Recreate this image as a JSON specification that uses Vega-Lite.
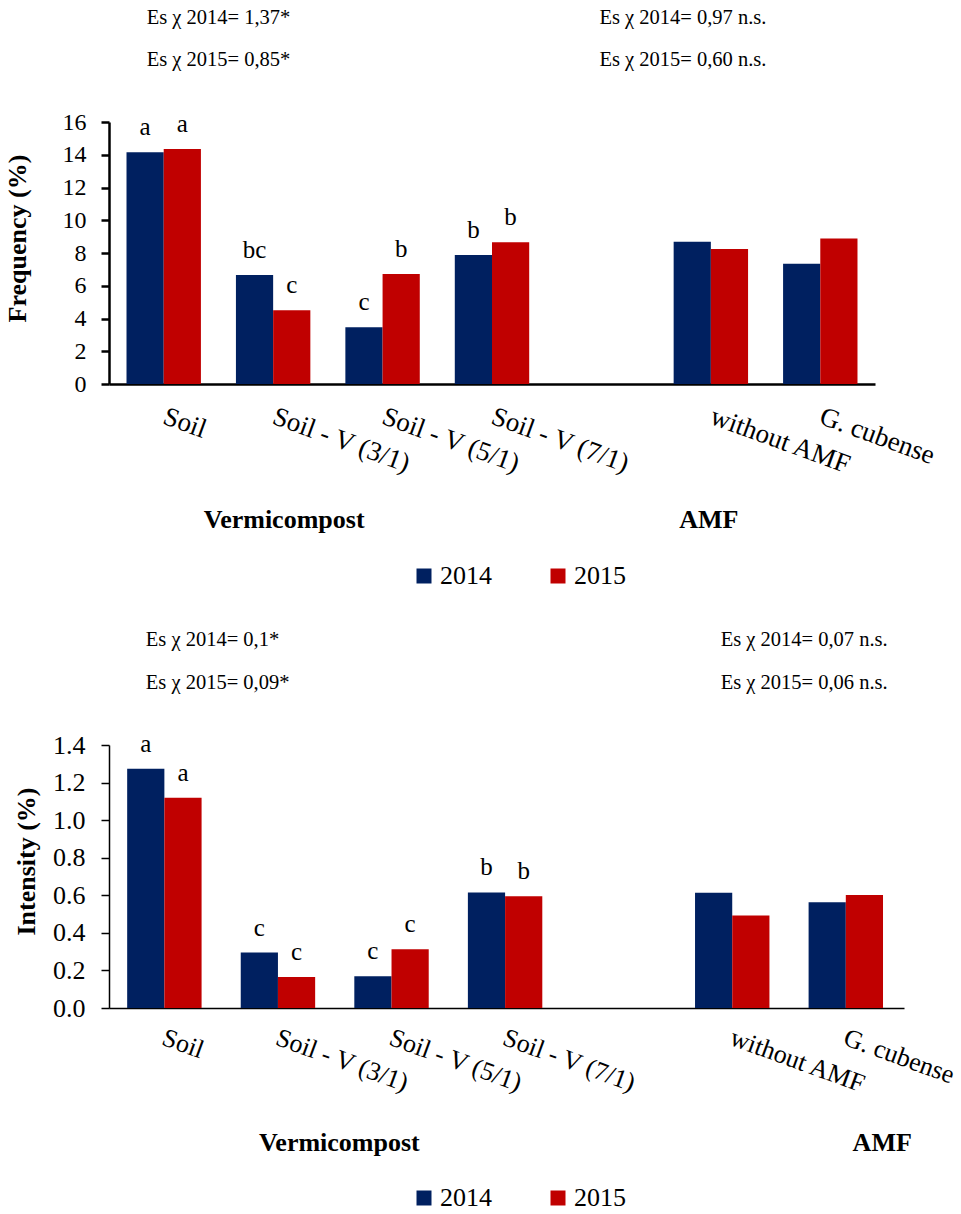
{
  "$schema": "https://vega.github.io/schema/vega-lite/v6.json",
  "background": "white",
  "padding": {"left": 4, "top": 8, "right": 2, "bottom": 5},
  "spacing": 361,
  "bounds": "flush",
  "config": {"view": {"stroke": null}, "font": "Liberation Serif", "legend": {"labelFont": "Liberation Serif"}, "axis": {"labelFont": "Liberation Serif", "titleFont": "Liberation Serif"}},
  "resolve": {"scale": {"x": "independent", "y": "independent", "color": "independent"}, "legend": {"color": "independent"}},
  "vconcat": [
    {
      "width": 766,
      "height": 262,
      "data": {"values": [
        {"treatment": "Soil", "year": "2014", "value": 14.15, "letter": "a"},
        {"treatment": "Soil", "year": "2015", "value": 14.35, "letter": "a"},
        {"treatment": "Soil - V (3/1)", "year": "2014", "value": 6.66, "letter": "bc"},
        {"treatment": "Soil - V (3/1)", "year": "2015", "value": 4.50, "letter": "c"},
        {"treatment": "Soil - V (5/1)", "year": "2014", "value": 3.46, "letter": "c"},
        {"treatment": "Soil - V (5/1)", "year": "2015", "value": 6.72, "letter": "b"},
        {"treatment": "Soil - V (7/1)", "year": "2014", "value": 7.88, "letter": "b"},
        {"treatment": "Soil - V (7/1)", "year": "2015", "value": 8.65, "letter": "b"},
        {"treatment": "without AMF", "year": "2014", "value": 8.69, "letter": ""},
        {"treatment": "without AMF", "year": "2015", "value": 8.24, "letter": ""},
        {"treatment": "G. cubense", "year": "2014", "value": 7.35, "letter": ""},
        {"treatment": "G. cubense", "year": "2015", "value": 8.88, "letter": ""}
      ]},
      "layer": [
        {
          "mark": {"type": "bar"},
          "encoding": {
            "x": {"field": "treatment", "type": "nominal",
              "scale": {"domain": ["Soil", "Soil - V (3/1)", "Soil - V (5/1)", "Soil - V (7/1)", " ", "without AMF", "G. cubense"], "paddingInner": 0.32, "paddingOuter": 0.16},
              "axis": {"title": null, "ticks": false, "domainColor": "black", "domainWidth": 2.5, "labelAngle": 20, "labelAlign": "left", "labelBaseline": "top", "labelPadding": 19, "labelOffset": 5, "labelFont": "Liberation Serif", "labelFontSize": 27, "labelColor": "black", "labelOverlap": false, "labelLimit": 400, "labelBound": false}},
            "xOffset": {"field": "year", "type": "nominal", "scale": {"paddingInner": 0}},
            "y": {"field": "value", "type": "quantitative", "scale": {"domain": [0, 16]},
              "axis": {"title": "Frequency (%)", "values": [0, 2, 4, 6, 8, 10, 12, 14, 16], "tickCount": 9, "labelOverlap": false, "grid": false, "domainColor": "black", "domainWidth": 2.5, "tickColor": "black", "tickWidth": 2.5, "tickSize": 8, "labelFont": "Liberation Serif", "labelFontSize": 24, "labelColor": "black", "labelPadding": 15, "titleFont": "Liberation Serif", "titleFontSize": 26, "titleFontWeight": "bold", "titleColor": "black", "titlePadding": 32, "titleY": 116}},
            "color": {"field": "year", "type": "nominal",
              "scale": {"domain": ["2014", "2015"], "range": ["#002060", "#C00000"]},
              "legend": {"orient": "none", "legendX": 302, "legendY": 441, "direction": "horizontal", "title": null, "symbolType": "square", "symbolSize": 225, "symbolStrokeWidth": 0, "labelFont": "Liberation Serif", "labelFontSize": 26, "labelColor": "black", "labelOffset": 3, "columnPadding": 53, "padding": 0}}
          }
        },
        {
          "mark": {"type": "text", "dy": -17, "baseline": "alphabetic", "align": "center", "font": "Liberation Serif", "fontSize": 25, "color": "black"},
          "encoding": {
            "x": {"field": "treatment", "type": "nominal"},
            "xOffset": {"field": "year", "type": "nominal"},
            "y": {"field": "value", "type": "quantitative"},
            "text": {"field": "letter"}
          }
        },
        {
          "data": {"values": [{"treatment": "Soil", "label": "Es χ 2014= 1,37*\nEs χ 2015= 0,85*"}]},
          "mark": {"type": "text", "align": "left", "baseline": "middle", "dx": -17, "lineBreak": "\n", "lineHeight": 42, "font": "Liberation Serif", "fontSize": 20.5, "color": "black"},
          "encoding": {"x": {"field": "treatment", "type": "nominal"}, "y": {"datum": 22.35, "type": "quantitative"}, "text": {"field": "label"}}
        },
        {
          "data": {"values": [{"treatment": " ", "label": "Es χ 2014= 0,97 n.s.\nEs χ 2015= 0,60 n.s."}]},
          "mark": {"type": "text", "align": "left", "baseline": "middle", "dx": -2, "lineBreak": "\n", "lineHeight": 42, "font": "Liberation Serif", "fontSize": 20.5, "color": "black"},
          "encoding": {"x": {"field": "treatment", "type": "nominal"}, "y": {"datum": 22.35, "type": "quantitative"}, "text": {"field": "label"}}
        },
        {
          "data": {"values": [{"treatment": "Soil - V (3/1)", "label": "Vermicompost"}]},
          "mark": {"type": "text", "align": "center", "baseline": "middle", "dx": 11, "font": "Liberation Serif", "fontSize": 26, "fontWeight": "bold", "color": "black"},
          "encoding": {"x": {"field": "treatment", "type": "nominal"}, "y": {"datum": -8.31, "type": "quantitative"}, "text": {"field": "label"}}
        },
        {
          "data": {"values": [{"treatment": "without AMF", "label": "AMF"}]},
          "mark": {"type": "text", "align": "center", "baseline": "middle", "dx": -2, "font": "Liberation Serif", "fontSize": 26, "fontWeight": "bold", "color": "black"},
          "encoding": {"x": {"field": "treatment", "type": "nominal"}, "y": {"datum": -8.31, "type": "quantitative"}, "text": {"field": "label"}}
        }
      ]
    },
    {
      "width": 795,
      "height": 263,
      "data": {"values": [
        {"treatment": "Soil", "year": "2014", "value": 1.274, "letter": "a"},
        {"treatment": "Soil", "year": "2015", "value": 1.119, "letter": "a"},
        {"treatment": "Soil - V (3/1)", "year": "2014", "value": 0.295, "letter": "c"},
        {"treatment": "Soil - V (3/1)", "year": "2015", "value": 0.165, "letter": "c"},
        {"treatment": "Soil - V (5/1)", "year": "2014", "value": 0.169, "letter": "c"},
        {"treatment": "Soil - V (5/1)", "year": "2015", "value": 0.313, "letter": "c"},
        {"treatment": "Soil - V (7/1)", "year": "2014", "value": 0.615, "letter": "b"},
        {"treatment": "Soil - V (7/1)", "year": "2015", "value": 0.595, "letter": "b"},
        {"treatment": "without AMF", "year": "2014", "value": 0.613, "letter": ""},
        {"treatment": "without AMF", "year": "2015", "value": 0.492, "letter": ""},
        {"treatment": "G. cubense", "year": "2014", "value": 0.563, "letter": ""},
        {"treatment": "G. cubense", "year": "2015", "value": 0.602, "letter": ""}
      ]},
      "layer": [
        {
          "mark": {"type": "bar"},
          "encoding": {
            "x": {"field": "treatment", "type": "nominal",
              "scale": {"domain": ["Soil", "Soil - V (3/1)", "Soil - V (5/1)", "Soil - V (7/1)", " ", "without AMF", "G. cubense"], "paddingInner": 0.32, "paddingOuter": 0.16},
              "axis": {"title": null, "ticks": false, "domainColor": "black", "domainWidth": 1.5, "labelAngle": 20, "labelAlign": "left", "labelBaseline": "top", "labelPadding": 16, "labelOffset": 2, "labelFont": "Liberation Serif", "labelFontSize": 26, "labelColor": "black", "labelOverlap": false, "labelLimit": 400, "labelBound": false}},
            "xOffset": {"field": "year", "type": "nominal", "scale": {"paddingInner": 0}},
            "y": {"field": "value", "type": "quantitative", "scale": {"domain": [0, 1.4]},
              "axis": {"title": "Intensity (%)", "values": [0, 0.2, 0.4, 0.6, 0.8, 1.0, 1.2, 1.4], "tickCount": 8, "format": ".1f", "labelOverlap": false, "grid": false, "domainColor": "black", "domainWidth": 1.5, "tickColor": "black", "tickWidth": 1.5, "tickSize": 8, "labelFont": "Liberation Serif", "labelFontSize": 26, "labelColor": "black", "labelPadding": 16, "titleFont": "Liberation Serif", "titleFontSize": 26, "titleFontWeight": "bold", "titleColor": "black", "titlePadding": 13, "titleY": 116}},
            "color": {"field": "year", "type": "nominal",
              "scale": {"domain": ["2014", "2015"], "range": ["#002060", "#C00000"]},
              "legend": {"orient": "none", "legendX": 302, "legendY": 440, "direction": "horizontal", "title": null, "symbolType": "square", "symbolSize": 225, "symbolStrokeWidth": 0, "labelFont": "Liberation Serif", "labelFontSize": 26, "labelColor": "black", "labelOffset": 3, "columnPadding": 53, "padding": 0}}
          }
        },
        {
          "mark": {"type": "text", "dy": -17, "baseline": "alphabetic", "align": "center", "font": "Liberation Serif", "fontSize": 25, "color": "black"},
          "encoding": {
            "x": {"field": "treatment", "type": "nominal"},
            "xOffset": {"field": "year", "type": "nominal"},
            "y": {"field": "value", "type": "quantitative"},
            "text": {"field": "letter"}
          }
        },
        {
          "data": {"values": [{"treatment": "Soil", "label": "Es χ 2014= 0,1*\nEs χ 2015= 0,09*"}]},
          "mark": {"type": "text", "align": "left", "baseline": "middle", "dx": -20, "lineBreak": "\n", "lineHeight": 43, "font": "Liberation Serif", "fontSize": 20.5, "color": "black"},
          "encoding": {"x": {"field": "treatment", "type": "nominal"}, "y": {"datum": 1.96, "type": "quantitative"}, "text": {"field": "label"}}
        },
        {
          "data": {"values": [{"treatment": "without AMF", "label": "Es χ 2014= 0,07  n.s.\nEs χ 2015= 0,06 n.s."}]},
          "mark": {"type": "text", "align": "left", "baseline": "middle", "dx": -13, "lineBreak": "\n", "lineHeight": 43, "font": "Liberation Serif", "fontSize": 20.5, "color": "black"},
          "encoding": {"x": {"field": "treatment", "type": "nominal"}, "y": {"datum": 1.96, "type": "quantitative"}, "text": {"field": "label"}}
        },
        {
          "data": {"values": [{"treatment": "Soil - V (3/1)", "label": "Vermicompost"}]},
          "mark": {"type": "text", "align": "center", "baseline": "middle", "dx": 60, "font": "Liberation Serif", "fontSize": 26, "fontWeight": "bold", "color": "black"},
          "encoding": {"x": {"field": "treatment", "type": "nominal"}, "y": {"datum": -0.721, "type": "quantitative"}, "text": {"field": "label"}}
        },
        {
          "data": {"values": [{"treatment": "G. cubense", "label": "AMF"}]},
          "mark": {"type": "text", "align": "center", "baseline": "middle", "dx": 35, "font": "Liberation Serif", "fontSize": 26, "fontWeight": "bold", "color": "black"},
          "encoding": {"x": {"field": "treatment", "type": "nominal"}, "y": {"datum": -0.721, "type": "quantitative"}, "text": {"field": "label"}}
        }
      ]
    }
  ]
}
